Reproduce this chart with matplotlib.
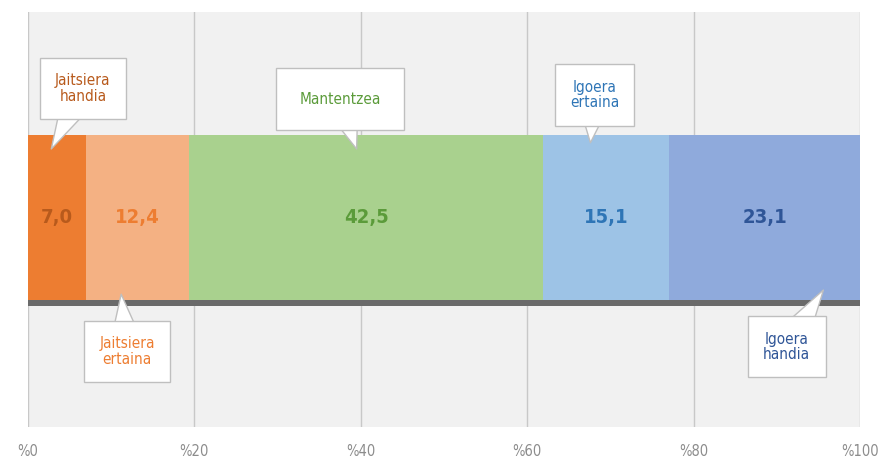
import matplotlib.pyplot as plt
import matplotlib.ticker as ticker
from matplotlib import font_manager

categories = ["Jaitsiera handia", "Jaitsiera ertaina", "Mantentzea", "Igoera ertaina", "Igoera handia"]
values = [7.0, 12.4, 42.5, 15.1, 23.1]
callout_text = ["Jaitsiera\nhandia", "Jaitsiera\nertaina", "Mantentzea", "Igoera\nertaina", "Igoera\nhandia"]
tick_values = [0, 20, 40, 60, 80, 100]
tick_labels = ["%0", "%20", "%40", "%60", "%80", "%100"]

bar_colors = ['#ED7D31', '#F4B183', '#A9D18E', '#9DC3E6', '#8FAADC']
text_colors = ['#B85A1C', '#ED7D31', '#5B9B3A', '#2E75B6', '#2F5597']

# callout placement: (box x, box y, tip x, tip y)
callout_pos = [
    (6.6, 0.815, 2.8, 0.67),
    (11.9, 0.182, 11.2, 0.32),
    (37.5, 0.79, 39.5, 0.67),
    (68.1, 0.80, 67.6, 0.685),
    (91.2, 0.193, 95.6, 0.33),
]
callout_pad = [1.0, 1.0, 1.55, 1.0, 1.0]

names = {f.name for f in font_manager.fontManager.ttflist}
if 'Liberation Sans Narrow' in names:
    narrow = ['Liberation Sans Narrow', 'DejaVu Sans']
    stretch = 'normal'
else:
    narrow = ['DejaVu Sans']
    stretch = 'condensed'


def main():
    fig = plt.figure(figsize=(8.79, 4.61), dpi=100)
    ax = fig.add_axes([28 / 879, (461 - 427) / 461, 832 / 879, 415 / 461])
    ax.set_facecolor('#F1F1F1')

    y_bar = 0.505
    h_bar = 0.398

    # shadow under the bar
    ax.barh(y_bar - 0.014, sum(values), height=h_bar, left=0, color='#6a6a6a', zorder=2)

    left = 0
    for v, c, tc in zip(values, bar_colors, text_colors):
        ax.barh(y_bar, v, height=h_bar, left=left, color=c, zorder=3)
        ax.text(left + v / 2, y_bar, f"{v:.1f}".replace('.', ','), ha='center', va='center',
                fontsize=14.5, fontweight='bold', color=tc, family=narrow, fontstretch=stretch,
                zorder=4)
        left += v

    for txt, (bx, by, tx, ty), tc, pad in zip(callout_text, callout_pos, text_colors, callout_pad):
        ax.annotate(txt, xy=(tx, ty), xytext=(bx, by), ha='center', va='center',
                    fontsize=11, color=tc, family=narrow, fontstretch=stretch,
                    linespacing=1.05, zorder=5,
                    bbox=dict(boxstyle=f'square,pad={pad}', fc='white', ec='#BFBFBF', lw=1),
                    arrowprops=dict(arrowstyle='wedge,tail_width=2.5,shrink_factor=0.5',
                                    fc='white', ec='#BFBFBF', lw=1, patchA=None,
                                    shrinkA=0, shrinkB=0))

    ax.set_xlim(0, 100)
    ax.set_ylim(0, 1)
    ax.xaxis.set_major_locator(ticker.FixedLocator(tick_values))
    ax.set_xticklabels(tick_labels, family=narrow, fontstretch=stretch)
    ax.set_yticks([])
    ax.grid(axis='x', color='#C8C8C8', linewidth=1, zorder=1)
    ax.set_axisbelow(True)
    for s in ax.spines.values():
        s.set_visible(False)
    ax.tick_params(axis='x', length=0, pad=12, labelsize=10.5, labelcolor='#8C8C8C')

    plt.savefig("out.png", dpi=100)
    plt.close()


if __name__ == "__main__":
    main()
